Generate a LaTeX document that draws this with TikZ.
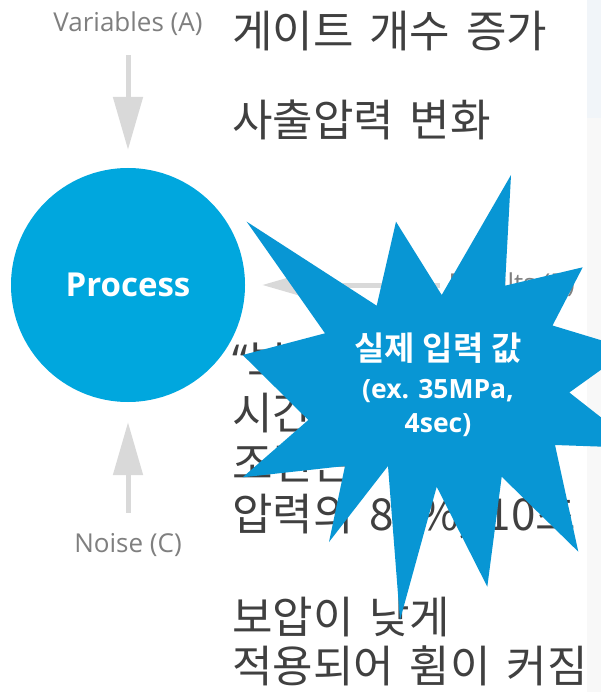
\documentclass[tikz,border=0pt]{standalone}
\usepackage{fontspec}
\setmainfont{Open Sans}
\newfontfamily\kr[WordSpace=1.6]{Noto Sans CJK KR}
\newfontfamily\krb{Noto Sans CJK KR Bold}
\usetikzlibrary{arrows.meta}
\definecolor{procblue}{HTML}{00A7DE}
\definecolor{starblue}{HTML}{0896D4}
\definecolor{arrowgray}{HTML}{D9D9D9}
\definecolor{labelgray}{HTML}{7F7F7F}
\definecolor{textgray}{HTML}{404040}
\definecolor{panelblue}{HTML}{F1F5F9}
\definecolor{panelgray}{HTML}{F8F8F8}
\begin{document}
\begin{tikzpicture}[x=1pt,y=-1pt,
  flow/.style={draw=arrowgray, line width=5pt, -{Triangle[width=29pt,length=53pt]}},
  lbl/.style={text=labelgray, font=\fontsize{26}{30}\selectfont, inner sep=0pt},
  kline/.style={text=textgray, font=\kr\fontsize{44}{50}\selectfont, inner sep=0pt, anchor=base west},
  startxt/.style={text=white, inner sep=0pt, anchor=base}
  ]
\useasboundingbox (0,0) rectangle (601,692);
\fill[white] (0,0) rectangle (601,692);
\fill[panelblue] (587,0) rectangle (601,118);
\fill[panelgray] (587,118) rectangle (601,692);

\node[circle, fill=procblue, minimum size=234pt, inner sep=0pt, text=white,
      font=\bfseries\fontsize{33}{38}\selectfont] (proc) at (128,285) {Process};

\node[lbl, anchor=base] (varA) at (128,32) {Variables (A)};
\node[lbl, anchor=base] (noiseC) at (128,552) {Noise (C)};
\node[lbl, anchor=east] (resB) at (575,285) {Results (B)};

\draw[flow, shorten <=19pt, shorten >=18pt] (varA) -- (proc);
\draw[flow, shorten <=20pt, shorten >=20pt] (noiseC) -- (proc);
\draw[flow, shorten <=8pt, shorten >=17pt] (resB) -- (proc);

\node[kline] (t1) at (232,48) {게이트 개수 증가};
\node[kline] (t2) at (232,137) {사출압력 변화};
\node[kline] (t3) at (232,376) {{\rmfamily “}보압};
\node[kline] (t4) at (232,429) {시간};
\node[kline] (t5) at (232,479) {조건은};
\node[kline] (t6) at (232,530) {압력의 80\%, 10초};
\node[kline] (t7) at (232,633) {보압이 낮게};
\node[kline] (t8) at (232,682) {적용되어 휨이 커짐};

\fill[starblue] (511,175) -- (505,285.7) -- (582.7,267.3) -- (552.5,325.5)
  -- (630,349) -- (569.3,392.5) -- (640,448) -- (555,445) -- (578.3,551.7)
  -- (501.7,476.7) -- (487.3,586.7) -- (436.7,486.7) -- (400,620)
  -- (388,466) -- (329,542) -- (345,466) -- (242.7,477.3) -- (308.3,420)
  -- (242.7,355) -- (325,333.3) -- (246.7,221.7) -- (376.7,305.7)
  -- (396,221.7) -- (441.7,295) -- cycle;

\node[startxt, text height=26pt, text depth=2pt, font=\krb\fontsize{33}{38}\selectfont] (s1) at (438,360) {실제 입력 값};
\node[startxt, text height=19pt, text depth=4pt, font=\bfseries\fontsize{26.5}{32}\selectfont] (s2) at (438,398) {(ex. 35MPa,};
\node[startxt, text height=19pt, text depth=4pt, font=\bfseries\fontsize{26.5}{32}\selectfont] (s3) at (438,432) {4sec)};
\end{tikzpicture}
\end{document}
